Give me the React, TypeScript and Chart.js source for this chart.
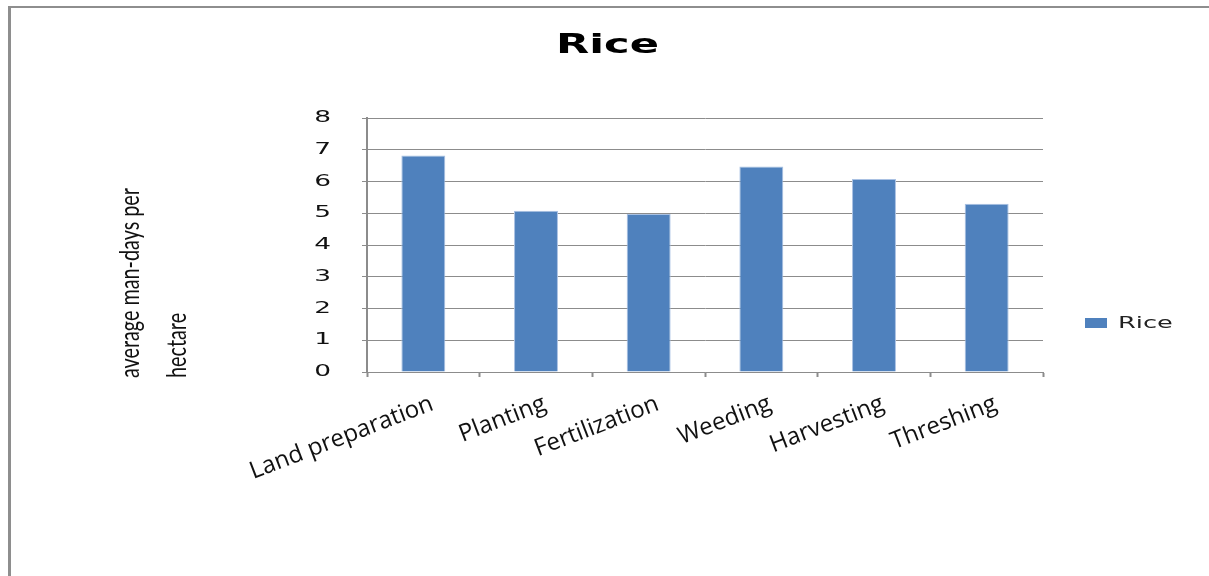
import React, { useEffect, useRef } from 'react';
import { Chart, registerables } from 'chart.js';

Chart.register(...registerables);

const chartTitle = 'Rice';
const seriesName = 'Rice';
const categories = ['Land preparation', 'Planting', 'Fertilization', 'Weeding', 'Harvesting', 'Threshing'];
const riceValues = [6.82, 5.08, 4.98, 6.47, 6.08, 5.3];
const yTitleLines = ['average man-days per', 'hectare'];
const yMin = 0;
const yMax = 8;
const yStep = 1;

const BAR_COLOR = '#4F81BD';
const GRID = '#8c8c8c';

function stretchedText(
  ctx: CanvasRenderingContext2D,
  text: string,
  x: number,
  y: number,
  sx: number,
  font: string,
  align: CanvasTextAlign,
  baseline: CanvasTextBaseline,
  color: string
) {
  ctx.save();
  ctx.translate(x, y);
  ctx.scale(sx, 1);
  ctx.font = font;
  ctx.textAlign = align;
  ctx.textBaseline = baseline;
  ctx.fillStyle = color;
  ctx.fillText(text, 0, 0);
  ctx.restore();
}

const decorPlugin = {
  id: 'decor',
  beforeDraw(chart: any) {
    const ctx: CanvasRenderingContext2D = chart.ctx;
    ctx.save();
    ctx.fillStyle = '#ffffff';
    ctx.fillRect(0, 0, chart.width, chart.height);
    ctx.strokeStyle = '#8e8e8e';
    ctx.lineWidth = 2;
    ctx.beginPath();
    ctx.moveTo(8, 7);
    ctx.lineTo(chart.width, 7);
    ctx.stroke();
    ctx.lineWidth = 3;
    ctx.beginPath();
    ctx.moveTo(9.5, 6);
    ctx.lineTo(9.5, chart.height);
    ctx.stroke();
    ctx.restore();
  },
  afterDraw(chart: any) {
    const ctx: CanvasRenderingContext2D = chart.ctx;
    const yScale = chart.scales.y;
    const xScale = chart.scales.x;

    // Title
    stretchedText(ctx, chartTitle, 607.5, 53, 1.6, 'bold 27px "DejaVu Sans"', 'center', 'alphabetic', '#000');

    // Y tick labels
    yScale.ticks.forEach((t: any) => {
      const py = yScale.getPixelForValue(t.value);
      stretchedText(ctx, String(t.value), 331, py, 1.65, '16px "DejaVu Sans"', 'right', 'middle', '#111');
    });

    // X labels (rotated)
    categories.forEach((c, i) => {
      const px = xScale.getPixelForValue(i);
      ctx.save();
      ctx.translate(px + 9, 403);
      ctx.rotate((-21 * Math.PI) / 180);
      ctx.font = '24px "Open Sans"';
      ctx.textAlign = 'right';
      ctx.textBaseline = 'middle';
      ctx.fillStyle = '#111';
      ctx.fillText(c, 0, 0);
      ctx.restore();
    });

    // Y axis title (rotated, two lines, condensed)
    ctx.save();
    ctx.font = '27px Lato';
    const w1 = ctx.measureText(yTitleLines[0]).width;
    const k = 190 / w1;
    const baseXs = [139, 186];
    yTitleLines.forEach((line, i) => {
      ctx.save();
      ctx.translate(baseXs[i], 378);
      ctx.rotate(-Math.PI / 2);
      ctx.scale(k, 1);
      ctx.font = '27px Lato';
      ctx.textAlign = 'left';
      ctx.textBaseline = 'alphabetic';
      ctx.fillStyle = '#111';
      ctx.fillText(line, 0, 0);
      ctx.restore();
    });
    ctx.restore();

    // Legend
    ctx.save();
    ctx.fillStyle = BAR_COLOR;
    ctx.fillRect(1085, 318, 22, 10);
    ctx.restore();
    stretchedText(ctx, seriesName, 1118, 324, 1.6, '16px "DejaVu Sans"', 'left', 'middle', '#222');
  },
};

export default function App() {
  const canvasRef = useRef<HTMLCanvasElement | null>(null);

  useEffect(() => {
    if (!canvasRef.current) return;
    const chart = new Chart(canvasRef.current, {
      type: 'bar',
      data: {
        labels: categories,
        datasets: [
          {
            label: seriesName,
            data: riceValues,
            backgroundColor: BAR_COLOR,
            borderColor: '#a9c1e3',
            borderWidth: 1,
            barPercentage: 0.39,
            categoryPercentage: 1,
          },
        ],
      },
      options: {
        animation: false,
        responsive: true,
        maintainAspectRatio: false,
        layout: { padding: { left: 362, top: 118, right: 166, bottom: 199 } },
        plugins: {
          legend: { display: false },
          title: { display: false },
          tooltip: { enabled: false },
        },
        scales: {
          x: {
            offset: true,
            ticks: { display: false },
            grid: {
              offset: true,
              drawOnChartArea: false,
              drawTicks: true,
              tickLength: 5,
              tickColor: GRID,
              tickWidth: 2,
            },
            border: { display: true, color: GRID, width: 1 },
          },
          y: {
            min: yMin,
            max: yMax,
            ticks: { display: false, stepSize: yStep },
            grid: {
              color: GRID,
              lineWidth: 1,
              drawTicks: true,
              tickLength: 5,
              tickColor: GRID,
            },
            border: { display: true, color: GRID, width: 2 },
          },
        },
      },
      plugins: [decorPlugin],
    });
    return () => chart.destroy();
  }, []);

  return (
    <div
      style={{
        position: 'fixed',
        left: 0,
        top: 0,
        width: 1209,
        height: 576,
        overflow: 'hidden',
        background: '#fff',
      }}
    >
      <canvas ref={canvasRef} style={{ display: 'block' }} />
    </div>
  );
}
